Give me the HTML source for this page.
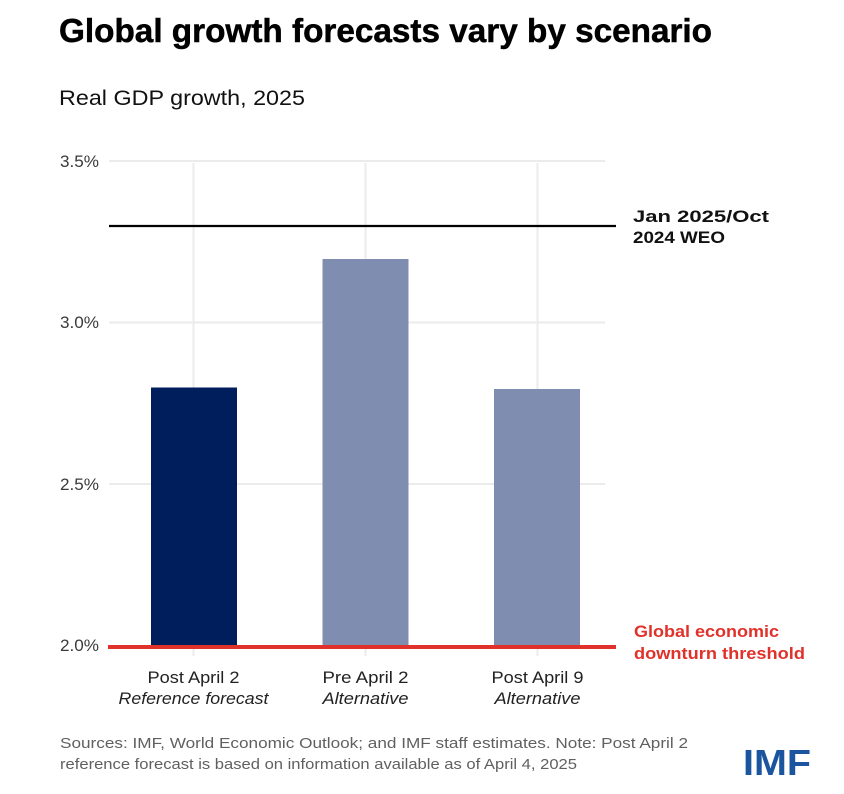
<!DOCTYPE html>
<html>
<head>
<meta charset="utf-8">
<style>
html,body{margin:0;padding:0;background:#fff;}
svg{display:block;}
text{font-family:"Liberation Sans",sans-serif;}
</style>
</head>
<body>
<svg width="844" height="794" viewBox="0 0 844 794" xmlns="http://www.w3.org/2000/svg">
<rect width="844" height="794" fill="#fff"/>
<!-- Title -->
<text x="59" y="42" font-size="33" font-weight="bold" fill="#000" stroke="#000" stroke-width="0.5" textLength="653" lengthAdjust="spacingAndGlyphs">Global growth forecasts vary by scenario</text>
<text x="59" y="105" font-size="21.5" fill="#111" textLength="246" lengthAdjust="spacingAndGlyphs">Real GDP growth, 2025</text>

<!-- gridlines -->
<g stroke="#ebebeb" stroke-width="2">
<line x1="109" y1="161" x2="605" y2="161"/>
<line x1="109" y1="322.5" x2="605" y2="322.5"/>
<line x1="109" y1="484" x2="605" y2="484"/>
<line x1="193.5" y1="163" x2="193.5" y2="645"/>
<line x1="365.5" y1="163" x2="365.5" y2="645"/>
<line x1="537.5" y1="163" x2="537.5" y2="645"/>
<line x1="193.5" y1="649" x2="193.5" y2="656"/>
<line x1="365.5" y1="649" x2="365.5" y2="656"/>
<line x1="537.5" y1="649" x2="537.5" y2="656"/>
</g>

<!-- tick labels -->
<g font-size="16.5" fill="#3a3a3a" text-anchor="end">
<text x="99" y="167" textLength="39" lengthAdjust="spacingAndGlyphs">3.5%</text>
<text x="99" y="328" textLength="39" lengthAdjust="spacingAndGlyphs">3.0%</text>
<text x="99" y="490" textLength="39" lengthAdjust="spacingAndGlyphs">2.5%</text>
<text x="99" y="651" textLength="39" lengthAdjust="spacingAndGlyphs">2.0%</text>
</g>

<!-- bars -->
<rect x="151" y="387.5" width="86" height="258" fill="#001e5b"/>
<rect x="322.5" y="259" width="86" height="387" fill="#7f8eb0"/>
<rect x="494" y="389" width="86" height="257" fill="#7f8eb0"/>

<!-- reference line -->
<line x1="109" y1="226" x2="616" y2="226" stroke="#000" stroke-width="2.2"/>
<text x="633" y="222" font-size="16.5" font-weight="bold" fill="#111" textLength="136" lengthAdjust="spacingAndGlyphs">Jan 2025/Oct</text>
<text x="633" y="243" font-size="16.5" font-weight="bold" fill="#111" textLength="92" lengthAdjust="spacingAndGlyphs">2024 WEO</text>

<!-- threshold -->
<line x1="108" y1="647" x2="616" y2="647" stroke="#e0312a" stroke-width="4"/>
<text x="634" y="637" font-size="17" font-weight="bold" fill="#e0312a" textLength="145" lengthAdjust="spacingAndGlyphs">Global economic</text>
<text x="634" y="659" font-size="17" font-weight="bold" fill="#e0312a" textLength="171" lengthAdjust="spacingAndGlyphs">downturn threshold</text>

<!-- category labels -->
<g font-size="17" fill="#222" text-anchor="middle">
<text x="193.5" y="683" textLength="92" lengthAdjust="spacingAndGlyphs">Post April 2</text>
<text x="193.5" y="704" font-style="italic" textLength="150" lengthAdjust="spacingAndGlyphs">Reference forecast</text>
<text x="365.5" y="683" textLength="86" lengthAdjust="spacingAndGlyphs">Pre April 2</text>
<text x="365.5" y="704" font-style="italic" textLength="86" lengthAdjust="spacingAndGlyphs">Alternative</text>
<text x="537.5" y="683" textLength="92" lengthAdjust="spacingAndGlyphs">Post April 9</text>
<text x="537.5" y="704" font-style="italic" textLength="86" lengthAdjust="spacingAndGlyphs">Alternative</text>
</g>

<!-- sources -->
<text x="60" y="748" font-size="15" fill="#606060" textLength="628" lengthAdjust="spacingAndGlyphs">Sources: IMF, World Economic Outlook; and IMF staff estimates. Note: Post April 2</text>
<text x="60" y="769" font-size="15" fill="#606060" textLength="517" lengthAdjust="spacingAndGlyphs">reference forecast is based on information available as of April 4, 2025</text>

<!-- logo -->
<text x="743" y="775" font-size="36" font-weight="bold" fill="#1b55a0" textLength="68" lengthAdjust="spacingAndGlyphs">IMF</text>
</svg>
</body>
</html>
